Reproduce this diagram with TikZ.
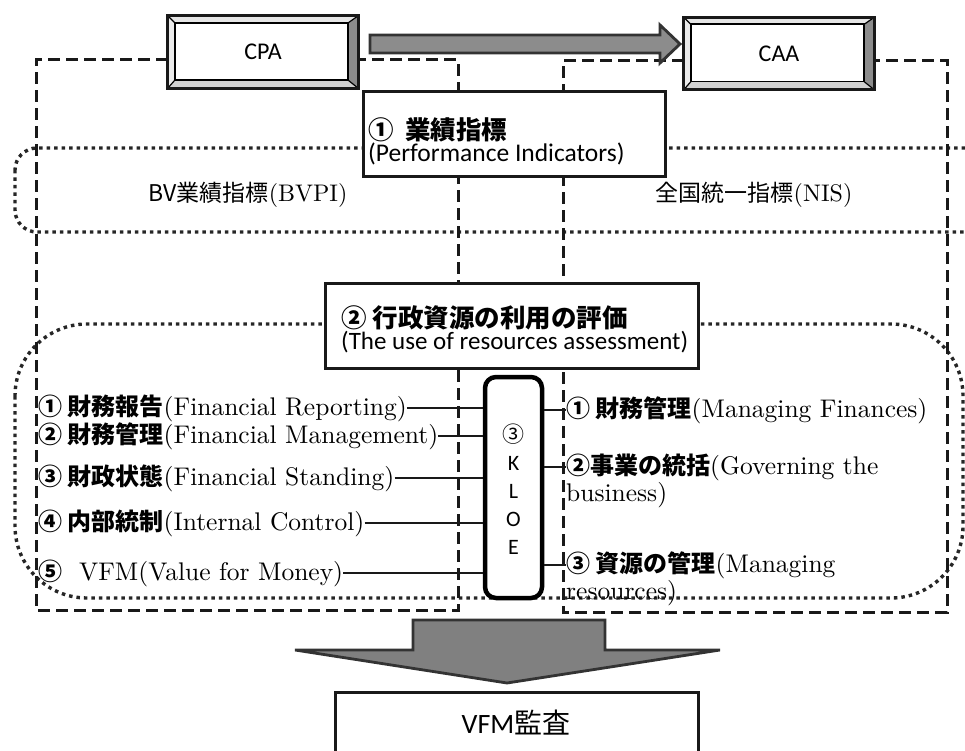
\documentclass[tikz,border=0pt]{standalone}
\usepackage{fontspec}
\setmainfont{lmroman10-regular.otf}[BoldFont=lmroman10-bold.otf]
\newfontfamily\jp{Noto Sans CJK JP}
\newfontfamily\calfont{Carlito}
\newcommand\J[1]{{\jp\bfseries\fontsize{24pt}{28pt}\selectfont #1}}
\newcommand\JB[1]{{\jp\bfseries\fontsize{25.5pt}{28pt}\selectfont #1}}
\newcommand\JR[1]{{\jp\fontsize{23pt}{26pt}\selectfont #1}}
\newcommand\bevelbox[1]{%
  \fill[black!10] (#1.north west) -- (#1.north east) -- ([shift={(-10,7)}]#1.north east) -- ([shift={(7,7)}]#1.north west) -- cycle;
  \fill[black!8] (#1.north west) -- (#1.south west) -- ([shift={(7,-8)}]#1.south west) -- ([shift={(7,7)}]#1.north west) -- cycle;
  \fill[black!45] (#1.north east) -- (#1.south east) -- ([shift={(-10,-8)}]#1.south east) -- ([shift={(-10,7)}]#1.north east) -- cycle;
  \fill[black!18] (#1.south east) -- (#1.south west) -- ([shift={(7,-8)}]#1.south west) -- ([shift={(-10,-8)}]#1.south east) -- cycle;
  \draw[line width=1.6pt] ([shift={(7,7)}]#1.north west) rectangle ([shift={(-10,-8)}]#1.south east);
  \draw[line width=1.2pt] (#1.north west) -- ([shift={(7,7)}]#1.north west)
    (#1.north east) -- ([shift={(-10,7)}]#1.north east)
    (#1.south east) -- ([shift={(-10,-8)}]#1.south east)
    (#1.south west) -- ([shift={(7,-8)}]#1.south west);
  \draw[line width=3pt, black!90] (#1.north west) rectangle (#1.south east);
}
\begin{document}
\begin{tikzpicture}[x=1pt,y=-1pt,
  dashedline/.style={line width=3pt, dash pattern=on 12pt off 6pt, black!90},
  dotline/.style={line width=3.4pt, dash pattern=on 3.5pt off 4pt, black!85},
  plainbox/.style={draw=black!90, line width=3pt, fill=white, inner sep=0pt},
  bevelnode/.style={fill=white, inner sep=0pt, minimum width=190pt, minimum height=72pt, font=\calfont\fontsize{24pt}{28pt}\selectfont},
  item/.style={anchor=west, inner sep=0pt, font=\fontsize{25.5pt}{28pt}\selectfont},
  conn/.style={line width=1.8pt, black!90},
  blockarrow/.style={fill=black!45, draw=black!80, line width=2.8pt, line join=miter},
 ]
\useasboundingbox (0,0) rectangle (965,751);
\clip (0,0) rectangle (965,751);

% dotted groups
\draw[dotline, rounded corners=22pt] (15,148) rectangle (990,232);
\draw[dotline, rounded corners=72pt] (15,324) rectangle (963,598);

% top nodes
\node[bevelnode] (cpa) at (263,52) {CPA};
\node[bevelnode] (caa) at (779,53.5) {CAA};
\bevelbox{cpa}
\bevelbox{caa}

% dashed frames
\coordinate (lt) at (36,60);
\coordinate (rt) at (563,61);
\draw[dashedline] (lt -| cpa.west) -- (lt) -- (36,610) -- (458,610) -- (458,60) -- (cpa.east |- lt);
\draw[dashedline] (rt -| caa.west) -- (rt) -- (563,612) -- (947,612) -- (947,61) -- (caa.east |- rt);

% top block arrow
\draw[blockarrow] (370,35) -- (660,35) -- (660,25) -- (680,44) -- (660,63) -- (660,53) -- (370,53) -- cycle;

% box 1
\node[plainbox, minimum width=302pt, minimum height=85pt] (b1) at (514,134.5) {};
\node[anchor=west, inner sep=0pt, align=left] (b1t) at (368,141)
  {\JB{①\ \ 業績指標}\\[0pt]{\calfont\fontsize{25.5pt}{28pt}\selectfont (Performance Indicators)}};

\node[inner sep=0pt, font=\fontsize{24pt}{28pt}\selectfont] (bv) at (248,195) {\JR{BV業績指標}(BVPI)};
\node[inner sep=0pt, font=\fontsize{24pt}{28pt}\selectfont] (nis) at (754,195) {\JR{全国統一指標}(NIS)};

% box 2
\node[plainbox, minimum width=373pt, minimum height=85pt] (b2) at (511.5,325.5) {};
\node[anchor=west, inner sep=0pt, align=left] (b2t) at (341,329)
  {\JB{②\ 行政資源の利用の評価}\\[0pt]{\calfont\fontsize{25pt}{28pt}\selectfont (The use of resources assessment)}};

% KLOE
\node[draw=black, line width=4.5pt, rounded corners=11pt, fill=white, minimum width=57pt, minimum height=221pt, inner sep=0pt] (k) at (513.5,487.5) {};
\node[inner sep=0pt, align=center, font=\calfont\fontsize{22pt}{28pt}\selectfont] (kt) at (513.5,489)
  {{\jp\fontsize{22pt}{26pt}\selectfont ③}\\K\\L\\O\\E};

% left items
\node[item] (l1) at (38,408) {\J{①\ 財務報告}(Financial Reporting)};
\node[item] (l2) at (38,436) {\J{②\ 財務管理}(Financial Management)};
\node[item] (l3) at (38,478) {\J{③\ 財政状態}(Financial Standing)};
\node[item] (l4) at (38,523) {\J{④\ 内部統制}(Internal Control)};
\node[item] (l5) at (38,573) {\J{⑤}\ \ VFM(Value for Money)};
\foreach \n in {l1,l2,l3,l4,l5}
  \draw[conn] (\n.east) -- (\n.east -| k.west);

% right items
\node[item] (r1) at (566,410) {\J{①\ 財務管理}(Managing Finances)};
\node[item] (r2) at (566,467) {\J{②事業の統括}(Governing the};
\node[item] (r2b) at (566,495) {business)};
\node[item] (r3) at (566,565) {\J{③\ 資源の管理}(Managing};
\node[item] (r3b) at (566,593) {resources)};
\foreach \n in {r1,r2,r3}
  \draw[conn] (\n.west -| k.east) -- (\n.west);

% big down arrow
\draw[blockarrow, fill=black!50] (413,620) -- (605,620) -- (605,650) -- (720,650) -- (507,683) -- (295,650) -- (413,650) -- cycle;

% VFM audit box
\node[plainbox, minimum width=363pt, minimum height=100pt] (vfm) at (516.5,742) {};
\node[inner sep=0pt] (vfmt) at (516,723) {{\calfont\fontsize{28pt}{32pt}\selectfont VFM}{\jp\fontsize{28pt}{32pt}\selectfont 監査}};
\end{tikzpicture}
\end{document}
